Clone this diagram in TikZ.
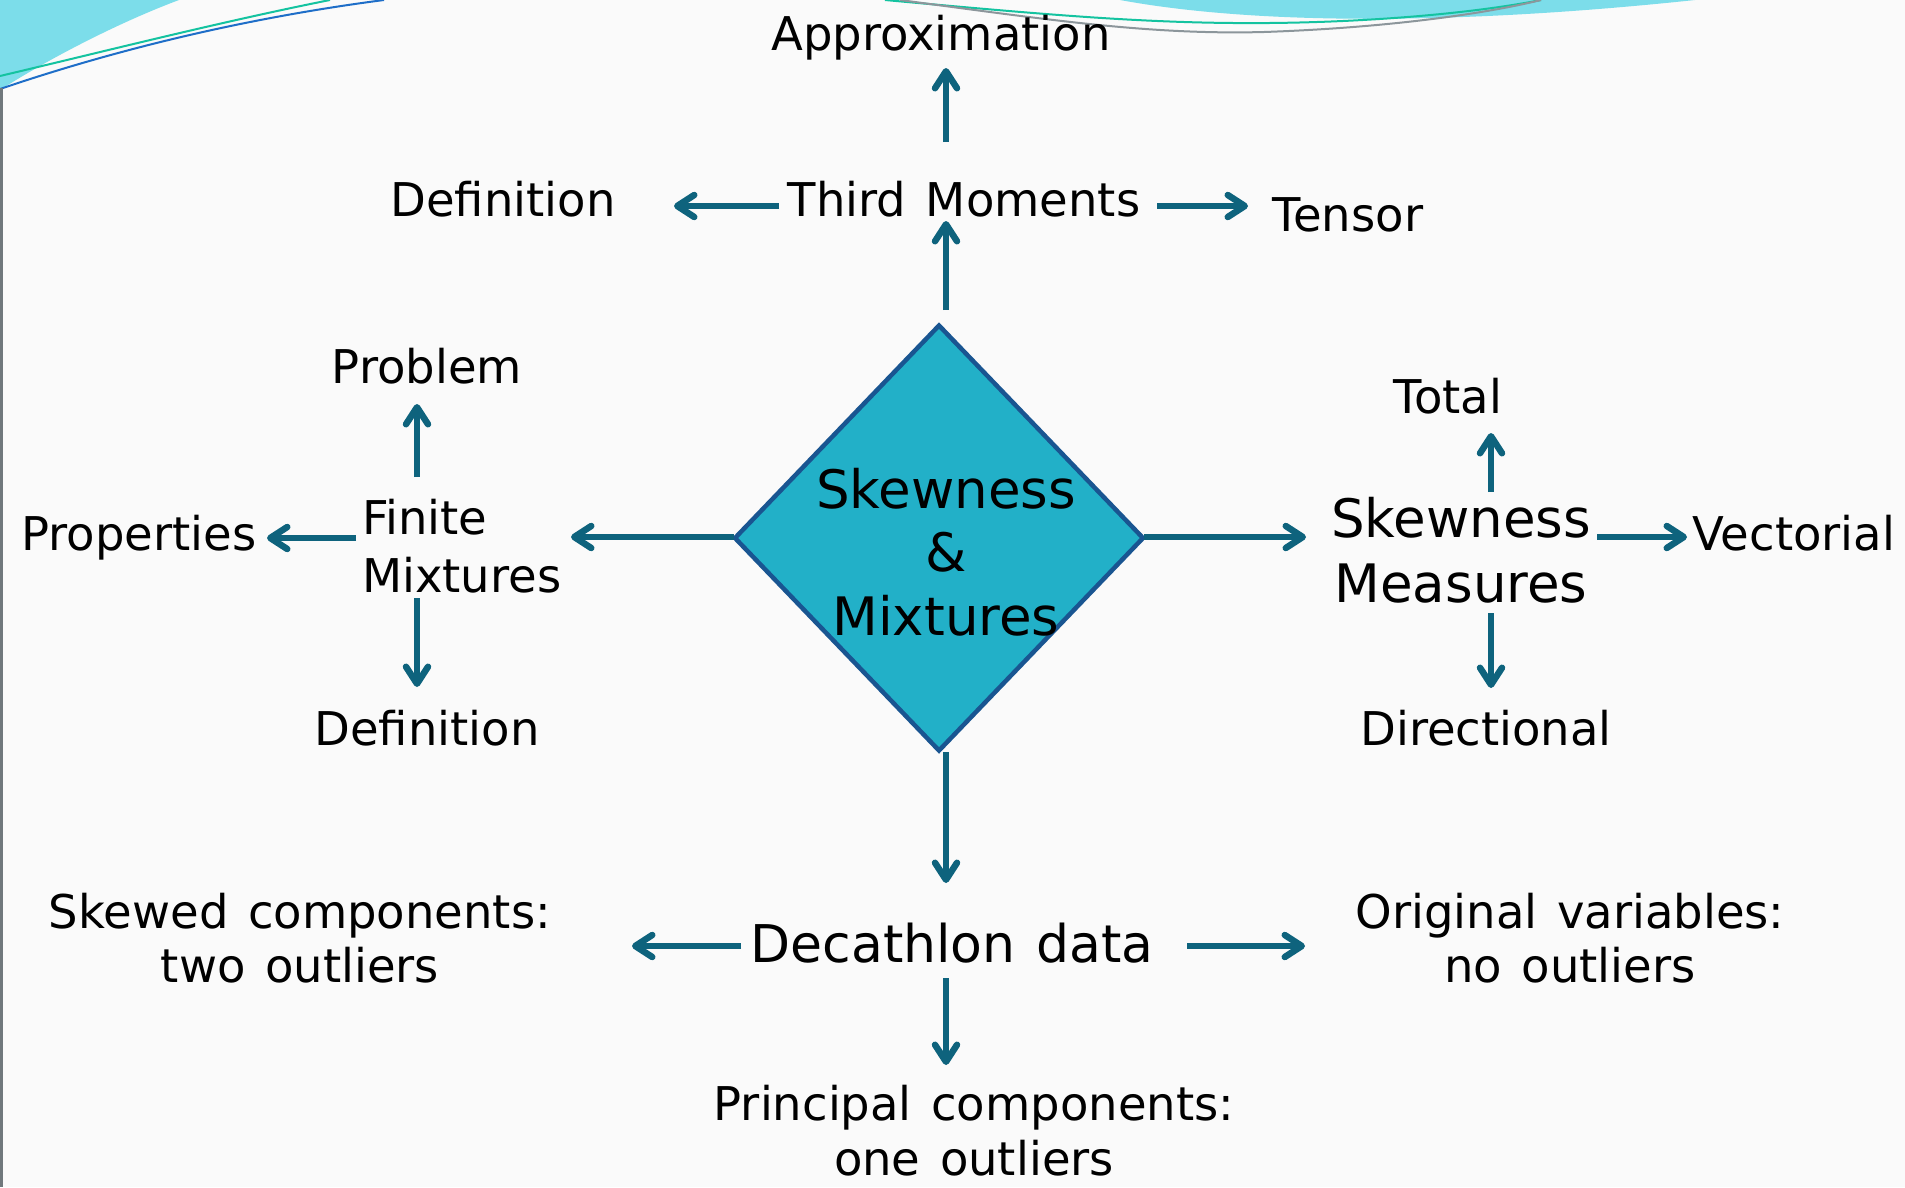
\documentclass[tikz,border=0pt]{standalone}
\usepackage{fontspec}
\setmainfont{DejaVu Sans}
\usetikzlibrary{arrows.meta,shapes.geometric,calc}
\definecolor{arrcol}{RGB}{14,99,125}
\definecolor{diafill}{RGB}{34,176,200}
\definecolor{diabord}{RGB}{25,85,145}
\definecolor{bgcol}{RGB}{250,250,250}
\definecolor{decocyan}{RGB}{124,221,234}
\definecolor{decogreen}{RGB}{20,195,160}
\definecolor{decoblue}{RGB}{30,110,200}
\definecolor{decogray}{RGB}{140,150,155}
\begin{document}
\begin{tikzpicture}[x=1pt,y=-1pt,
  txt/.style={inner sep=0pt, outer sep=0pt, anchor=base, align=center,
    font={\fontsize{46.5}{54}\selectfont\spaceskip=.42em\relax}},
  arr/.style={draw=arrcol, line width=6.5pt,
    -{Straight Barb[length=17pt,width=22pt,line cap=round,line join=round]}},
  decoline/.style={line width=2pt},
]
\useasboundingbox (0,0) rectangle (1905,1187);
\fill[bgcol] (0,0) rectangle (1905,1187);
% top decorations
\fill[decocyan] (0,0) -- (179,0) .. controls (120,22) and (50,58) .. (0,90) -- cycle;
\fill[decocyan] (1120,0) .. controls (1250,24) and (1450,26) .. (1695,0) -- cycle;
\draw[decoline, decogreen] (0,76) .. controls (110,50) and (220,22) .. (330,0);
\draw[decoline, decoblue] (0,89) .. controls (100,55) and (230,20) .. (384,0);
\draw[decoline, decogreen] (885,0) .. controls (1050,15) and (1150,24) .. (1269,23) .. controls (1380,22) and (1480,12) .. (1541,0);
\draw[decoline, decogray] (900,0) .. controls (1050,20) and (1150,35) .. (1264,32) .. controls (1380,28) and (1480,15) .. (1541,0);
\draw[line width=3pt, decogray!80!black] (1.5,88) -- (1.5,1187);

% central diamond
\node[diamond, draw=diabord, fill=diafill, line width=4.5pt, minimum width=408pt,
  minimum height=425pt, inner sep=0pt, outer sep=0pt] (dia) at (939,538) {};
\node[txt, font={\fontsize{53}{63.5}\selectfont}] (diat) at (946,635) {Skewness\\\&\\Mixtures};

% top branch
\node[txt] (tm) at (964,216) {Third Moments};
\node[txt] (appr) at (941,50) {Approximation};
\node[txt] (def1) at (503,216) {Definition};
\node[txt] (tensor) at (1348,231) {Tensor};

% left branch
\node[txt, anchor=base west, align=left, font={\fontsize{46.5}{58}\selectfont}] (fm) at (362,592) {Finite\\Mixtures};
\node[txt] (problem) at (427,383) {Problem};
\node[txt] (prop) at (139,550) {Properties};
\node[txt] (def2) at (427,745) {Definition};

% right branch
\node[txt, font={\fontsize{53}{65}\selectfont}] (skm) at (1461,602) {Skewness\\Measures};
\node[txt] (total) at (1448,413) {Total};
\node[txt] (vect) at (1794,550) {Vectorial};
\node[txt] (dir) at (1486,745) {Directional};

% bottom branch
\node[txt, font={\fontsize{52}{60}\selectfont\spaceskip=.4em\relax}] (dec) at (952,962) {Decathlon data};
\node[txt] (skc) at (300,982) {Skewed components:\\two outliers};
\node[txt] (orig) at (1570,982) {Original variables:\\no outliers};
\node[txt, font={\fontsize{46.5}{55}\selectfont\spaceskip=.42em\relax}] (pc) at (974,1175) {Principal components:\\one outliers};

% connectors
\draw[arr] ([shift={(7,-15.5)}]dia.north) -- ([shift={(-18,5)}]tm.base);
\draw[arr] ([shift={(-18,-74)}]tm.base) -- ([shift={(5,18)}]appr.base);
\draw[arr] ([shift={(-185,-10)}]tm.base) -- ([shift={(171,-10)}]def1.base);
\draw[arr] ([shift={(193,-10)}]tm.base) -- ([shift={(-100,-25)}]tensor.base);

\draw[arr] ([shift={(-1,-1)}]dia.west) -- ([shift={(209,-55)}]fm.base west);
\draw[arr] ([shift={(55,-115)}]fm.base west) -- ([shift={(-10,21)}]problem.base);
\draw[arr] ([shift={(-6,-54)}]fm.base west) -- ([shift={(128,-12)}]prop.base);
\draw[arr] ([shift={(55,6)}]fm.base west) -- ([shift={(-10,-58)}]def2.base);

\draw[arr] ([shift={(1,-1)}]dia.east) -- ([shift={(-155,-65)}]skm.base);
\draw[arr] ([shift={(30,-110)}]skm.base) -- ([shift={(43,20)}]total.base);
\draw[arr] ([shift={(136,-65)}]skm.base) -- ([shift={(-107,-13)}]vect.base);
\draw[arr] ([shift={(30,11)}]skm.base) -- ([shift={(5,-57)}]dir.base);

\draw[arr] ([shift={(7,1.5)}]dia.south) -- ([shift={(-6,-79)}]dec.base);
\draw[arr] ([shift={(-211,-16)}]dec.base) -- ([shift={(332,-36)}]skc.base);
\draw[arr] ([shift={(235,-16)}]dec.base) -- ([shift={(-265,-36)}]orig.base);
\draw[arr] ([shift={(-6,16)}]dec.base) -- ([shift={(-28,-110)}]pc.base);
\end{tikzpicture}
\end{document}
